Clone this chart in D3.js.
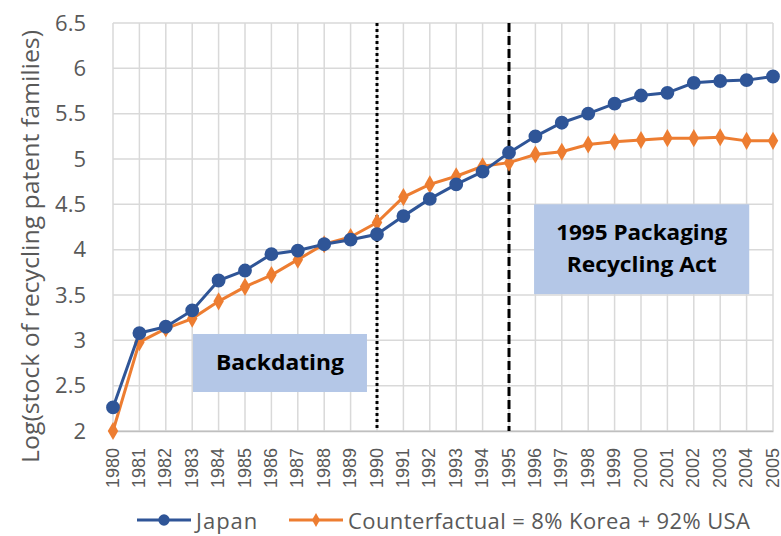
<!DOCTYPE html>
<html><head><meta charset="utf-8">
<script src="https://cdn.jsdelivr.net/npm/d3@7"></script>
<style>
html,body{margin:0;padding:0;background:#fff;}
svg{display:block;font-family:"Open Sans",sans-serif;}
</style></head>
<body><svg id="chart" width="781" height="536"></svg>
<script>
const years = d3.range(1980, 2006).map(String);
const japan = [2.26,3.08,3.15,3.33,3.66,3.77,3.95,3.99,4.06,4.11,4.17,4.37,4.56,4.72,4.86,5.07,5.25,5.40,5.50,5.61,5.70,5.73,5.84,5.86,5.87,5.91];
const counterfactual = [2.00,2.98,3.13,3.24,3.43,3.59,3.72,3.89,4.06,4.14,4.30,4.58,4.72,4.81,4.92,4.96,5.05,5.08,5.16,5.19,5.21,5.23,5.23,5.24,5.20,5.20];
const yTicks = [2,2.5,3,3.5,4,4.5,5,5.5,6,6.5];
const seriesNames = ["Japan","Counterfactual = 8% Korea + 92% USA"];
const markerYears = ["1990","1995"];
const annotations = [
  {lines:["Backdating"], widths:[128], x0:1983.03, x1:1989.62, y0:3.07, y1:2.43},
  {lines:["1995 Packaging","Recycling Act"], widths:[171,150], x0:1995.95, x1:2004.1, y0:4.50, y1:3.51}
];

const svg = d3.select("#chart");
const pL = 113, pR = 773, pT = 23, pB = 431;
const x = d3.scalePoint().domain(years).range([pL, pR]);
const y = d3.scaleLinear().domain([2, 6.5]).range([pB, pT]);
const xNum = d3.scaleLinear().domain([1980, 2005]).range([pL, pR]);
const blue = "#2f5597", orange = "#ed7d31";

// gridlines
const g = svg.append("g");
g.selectAll("line.h").data(yTicks).join("line")
  .attr("x1", pL).attr("x2", pR).attr("y1", d=>y(d)).attr("y2", d=>y(d))
  .attr("stroke", "#d9d9d9").attr("stroke-width", 1.5);
g.selectAll("line.v").data(years).join("line")
  .attr("x1", d=>x(d)).attr("x2", d=>x(d)).attr("y1", pT).attr("y2", pB)
  .attr("stroke", "#d9d9d9").attr("stroke-width", 1.5);

// axes
const yAxis = d3.axisLeft(y).tickValues(yTicks).tickSize(0).tickPadding(27).tickFormat(d=>String(d));
svg.append("g").attr("transform", `translate(${pL},0)`).call(yAxis)
  .call(a=>a.select(".domain").remove())
  .selectAll("text").attr("font-size", 22).attr("fill", "#595959").attr("font-family","Open Sans");
const xAxis = d3.axisBottom(x).tickSize(0).tickPadding(0);
svg.append("g").attr("transform", `translate(0,${pB})`).call(xAxis)
  .call(a=>a.select(".domain").attr("stroke","#bfbfbf").attr("stroke-width",1.5))
  .selectAll("text").attr("font-size", 18).attr("fill", "#595959")
  .attr("text-anchor", "end").attr("dy", null)
  .attr("transform", "translate(-1,17) rotate(-90)").attr("dx", 0).attr("dominant-baseline","central").attr("y",0).attr("x",0);

// y-axis title
svg.append("text").attr("transform", `translate(30,246.5) rotate(-90)`)
  .attr("text-anchor","middle").attr("dominant-baseline","central")
  .attr("font-size", 23).attr("fill", "#595959")
  .attr("textLength", 433).attr("lengthAdjust","spacingAndGlyphs")
  .text("Log(stock of recycling patent families)");

// vertical markers
svg.append("line").attr("x1", x(markerYears[0])).attr("x2", x(markerYears[0])).attr("y1", pT).attr("y2", pB)
  .attr("stroke","#000").attr("stroke-width",3).attr("stroke-dasharray","3,3");
svg.append("line").attr("x1", x(markerYears[1])).attr("x2", x(markerYears[1])).attr("y1", pT).attr("y2", pB)
  .attr("stroke","#000").attr("stroke-width",3).attr("stroke-dasharray","9,4");

// annotations
annotations.forEach(a=>{
  const ax0 = xNum(a.x0), ax1 = xNum(a.x1), ay0 = y(a.y0), ay1 = y(a.y1);
  svg.append("rect").attr("x", ax0).attr("y", ay0).attr("width", ax1-ax0).attr("height", ay1-ay0)
    .attr("fill", "#b4c7e7");
  const cy = (ay0+ay1)/2 - 1, lh = 32;
  a.lines.forEach((t,i)=>{
    svg.append("text").attr("x",(ax0+ax1)/2).attr("y", cy + (i-(a.lines.length-1)/2)*lh)
      .attr("text-anchor","middle").attr("dominant-baseline","central")
      .attr("font-size",21).attr("font-weight","bold").attr("fill","#000")
      .attr("textLength", a.widths[i]).attr("lengthAdjust","spacingAndGlyphs").text(t);
  });
});

// series
const line = d3.line().x((d,i)=>x(years[i])).y(d=>y(d));
function drawSeries(data, color, shape, size){
  svg.append("path").datum(data).attr("d", line).attr("fill","none").attr("stroke",color).attr("stroke-width",3);
  svg.append("g").selectAll("path").data(data).join("path")
    .attr("transform",(d,i)=>`translate(${x(years[i])},${y(d)})`)
    .attr("d", d3.symbol().type(shape).size(size)).attr("fill",color);
}
drawSeries(counterfactual, orange, d3.symbolDiamond, 95);
drawSeries(japan, blue, d3.symbolCircle, 150);

// legend
const ly = 520;
const legend = [
  {name: seriesNames[0], color: blue, shape: d3.symbolCircle, size: 100, x0: 137, ls: 1.0},
  {name: seriesNames[1], color: orange, shape: d3.symbolDiamond, size: 55, x0: 289, ls: 0.4}
];
legend.forEach(l=>{
  svg.append("line").attr("x1", l.x0).attr("x2", l.x0+54).attr("y1", ly).attr("y2", ly)
    .attr("stroke", l.color).attr("stroke-width", 3);
  svg.append("path").attr("transform", `translate(${l.x0+27},${ly})`)
    .attr("d", d3.symbol().type(l.shape).size(l.size)).attr("fill", l.color);
  svg.append("text").attr("x", l.x0+59).attr("y", ly).attr("dominant-baseline","central")
    .attr("font-size", 22).attr("fill","#595959").attr("letter-spacing", l.ls).text(l.name);
});
</script></body></html>
